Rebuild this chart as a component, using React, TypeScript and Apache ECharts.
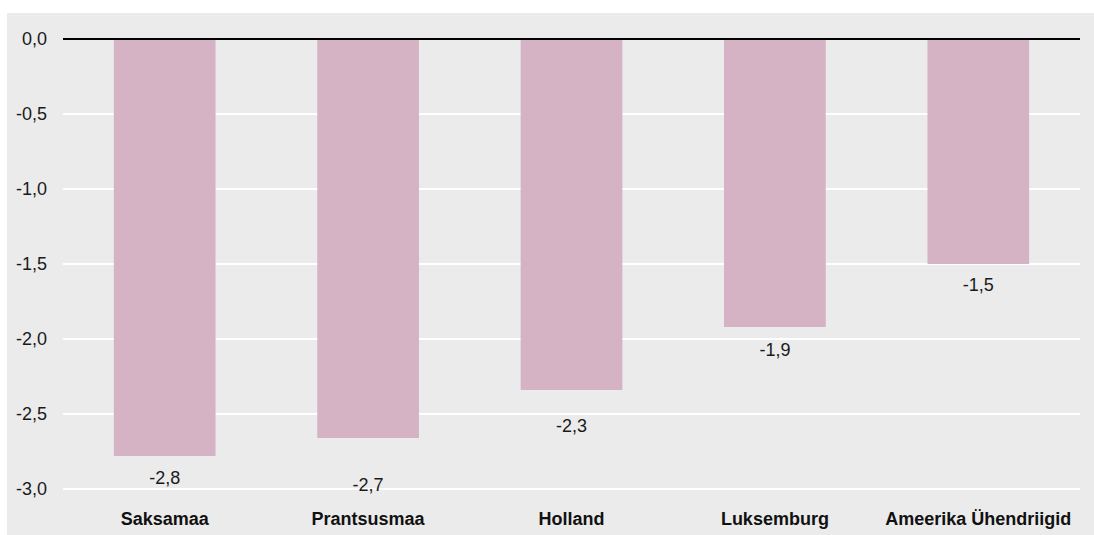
import React, { useEffect, useRef } from "react";
import * as echarts from "echarts";

const categories = ["Saksamaa", "Prantsusmaa", "Holland", "Luksemburg", "Ameerika Ühendriigid"];
const values = [-2.78, -2.66, -2.34, -1.92, -1.5];
const labelDistances = [13, 38, 27, 14, 12];
const yMin = -3;
const yMax = 0;
const yInterval = 0.5;

const fmt = (v: number) => v.toFixed(1).replace(".", ",");

export default function App() {
  const ref = useRef<HTMLDivElement>(null);
  useEffect(() => {
    if (!ref.current) return;
    const chart = echarts.init(ref.current, undefined, { renderer: "svg" });
    const font = "'Liberation Sans', Arial, Helvetica, sans-serif";
    chart.setOption({
      animation: false,
      textStyle: { fontFamily: font },
      graphic: [
        {
          type: "rect",
          z: -10,
          silent: true,
          shape: { x: 7, y: 13, width: 1087, height: 522 },
          style: { fill: "#ebebeb" },
        },
      ],
      grid: { left: 63, right: 14, top: 39, bottom: 46 },
      xAxis: {
        type: "category",
        data: categories,
        position: "bottom",
        axisLine: { show: false },
        axisTick: { show: false },
        axisLabel: {
          interval: 0,
          margin: 21,
          fontSize: 18,
          fontWeight: "bold",
          color: "#111",
          fontFamily: font,
        },
        splitLine: { show: false },
      },
      yAxis: {
        type: "value",
        min: yMin,
        max: yMax,
        interval: yInterval,
        axisLine: { show: false },
        axisTick: { show: false },
        axisLabel: {
          margin: 16,
          fontSize: 18,
          color: "#1a1a1a",
          fontFamily: font,
          formatter: (v: number) => fmt(v),
        },
        splitLine: { show: true, lineStyle: { color: "#ffffff", width: 2 } },
      },
      series: [
        {
          type: "bar",
          barWidth: "50%",
          itemStyle: { color: "#d5b2c4" },
          data: values.map((v, i) => ({
            value: v,
            label: { distance: labelDistances[i] },
          })),
          label: {
            show: true,
            position: "bottom",
            fontSize: 18,
            color: "#1a1a1a",
            fontFamily: font,
            formatter: (p: any) => fmt(p.value),
          },
          markLine: {
            silent: true,
            symbol: "none",
            label: { show: false },
            lineStyle: { color: "#000", width: 2, type: "solid" },
            data: [{ yAxis: 0 }],
          },
        },
      ],
    });
    return () => chart.dispose();
  }, []);
  return (
    <div
      ref={ref}
      style={{ position: "absolute", left: 0, top: 0, width: 1094, height: 535 }}
    />
  );
}
